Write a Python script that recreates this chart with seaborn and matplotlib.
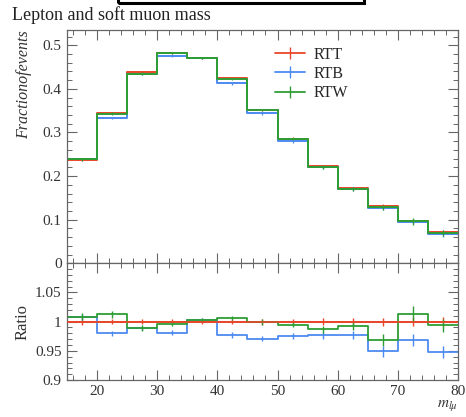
import numpy as np
import pandas as pd
import matplotlib
matplotlib.use("Agg")
import matplotlib.pyplot as plt
import seaborn as sns
from matplotlib.lines import Line2D
from matplotlib.patches import Rectangle
from matplotlib.ticker import MultipleLocator, FormatStrFormatter

# data: m_lmu histogram, bins of 5 from 15 to 80
bin_edges = [15, 20, 25, 30, 35, 40, 45, 50, 55, 60, 65, 70, 75, 80]
bin_centers = [17.5, 22.5, 27.5, 32.5, 37.5, 42.5, 47.5, 52.5, 57.5, 62.5, 67.5, 72.5, 77.5]

rtt = [0.238, 0.345, 0.438, 0.483, 0.470, 0.424, 0.352, 0.286, 0.222, 0.172, 0.132, 0.097, 0.071]
rtb = [0.239, 0.333, 0.435, 0.476, 0.470, 0.413, 0.344, 0.280, 0.220, 0.170, 0.127, 0.095, 0.068]
rtw = [0.239, 0.343, 0.435, 0.482, 0.470, 0.422, 0.352, 0.285, 0.221, 0.171, 0.128, 0.096, 0.070]

ratio_rtt = [1.0, 1.0, 1.0, 1.0, 1.0, 1.0, 1.0, 1.0, 1.0, 1.0, 1.0, 1.0, 1.0]
ratio_rtb = [1.008, 0.980, 0.989, 0.981, 1.003, 0.977, 0.971, 0.975, 0.977, 0.977, 0.949, 0.968, 0.948]
ratio_rtw = [1.008, 1.013, 0.989, 0.996, 1.003, 1.006, 0.999, 0.995, 0.987, 0.993, 0.968, 1.013, 0.994]

err_rtt = [0.006, 0.004, 0.004, 0.004, 0.004, 0.004, 0.005, 0.005, 0.006, 0.006, 0.007, 0.008, 0.008]
err_rtb = [0.005, 0.004, 0.004, 0.004, 0.004, 0.005, 0.005, 0.005, 0.006, 0.007, 0.009, 0.010, 0.011]
err_rtw = [0.006, 0.006, 0.005, 0.004, 0.004, 0.004, 0.005, 0.005, 0.006, 0.007, 0.010, 0.013, 0.011]

labels = ["RTT", "RTB", "RTW"]
colors = ["#e8462a", "#4d8af0", "#2e9e34"]

sns.set_style("ticks")
plt.rcParams["font.family"] = ["Liberation Serif", "DejaVu Serif"]
plt.rcParams["mathtext.fontset"] = "stix"

fig = plt.figure(figsize=(4.66, 4.17), dpi=100)
ax = fig.add_axes([0.143, 0.3686, 0.8405, 0.5594])
axr = fig.add_axes([0.143, 0.0887, 0.8405, 0.2799], sharex=ax)

gray = "#666666"

# main panel
main_vals = [rtt, rtb, rtw]
main_errs = [[e * 0.6 for e in err_rtt], [e * 0.6 for e in err_rtb], [e * 0.6 for e in err_rtw]]
for vals, errs, c in zip(main_vals, main_errs, colors):
    df = pd.DataFrame({"x": bin_centers, "w": vals})
    sns.histplot(data=df, x="x", weights="w", bins=bin_edges, element="step",
                 fill=False, color=c, linewidth=1.4, ax=ax)
    ax.errorbar(bin_centers, vals, yerr=errs, fmt="none", ecolor=c, elinewidth=0.9)

# ratio panel
ratio_vals = [ratio_rtt, ratio_rtb, ratio_rtw]
ratio_errs = [err_rtt, err_rtb, err_rtw]
for vals, errs, c in zip(ratio_vals, ratio_errs, colors):
    df = pd.DataFrame({"x": bin_centers, "w": vals})
    sns.histplot(data=df, x="x", weights="w", bins=bin_edges, element="step",
                 fill=False, color=c, linewidth=1.3, ax=axr)
    axr.errorbar(bin_centers, vals, yerr=errs, fmt="none", ecolor=c, elinewidth=1.0)
# reference line drawn on top
axr.hlines(1.0, 15, 80, color=colors[0], linewidth=1.2, zorder=5)

ax.set_xlim(15, 80)
ax.set_ylim(0, 0.535)
axr.set_ylim(0.9, 1.1)

for a in (ax, axr):
    a.tick_params(which="both", direction="in", top=True, right=True, color=gray,
                  labelsize=11, labelcolor="#333333")
    a.tick_params(which="major", length=7, width=0.8)
    a.tick_params(which="minor", length=3.5, width=0.7)
    for s in a.spines.values():
        s.set_color(gray)
        s.set_linewidth(0.9)
    a.xaxis.set_major_locator(MultipleLocator(10))
    a.xaxis.set_minor_locator(MultipleLocator(2))
    a.set_ylabel("")
    a.set_xlabel("")

ax.yaxis.set_major_locator(MultipleLocator(0.1))
ax.yaxis.set_minor_locator(MultipleLocator(0.02))
ax.yaxis.set_major_formatter(FormatStrFormatter("%g"))
ax.tick_params(labelbottom=False)

axr.set_yticks([0.9, 0.95, 1.0, 1.05])
axr.yaxis.set_minor_locator(MultipleLocator(0.01))
axr.yaxis.set_major_formatter(FormatStrFormatter("%g"))

ax.set_title("Lepton and soft muon mass", loc="left", fontsize=13, x=-0.14, pad=7, color="#222222")
ax.set_ylabel("Fractionofevents", fontstyle="italic", fontsize=11.5, loc="top", labelpad=8, color="#333333")
axr.set_ylabel("Ratio", fontsize=12, labelpad=3, color="#333333")
axr.set_xlabel(r"$m_{l\mu}$", loc="right", fontsize=11, labelpad=0, color="#333333")

handles = [Line2D([0], [0], color=c, linewidth=1.3, marker="|", markersize=9,
                  markeredgewidth=1.0) for c in colors]
ax.legend(handles, labels, loc="upper left", bbox_to_anchor=(0.495, 0.99), frameon=False,
          fontsize=11.5, handlelength=1.9, handletextpad=0.5, labelspacing=0.2)

# black box fragment at the top of the image
fig.patches.append(Rectangle((118 / 466, 1 - 2.5 / 417), (364 - 118) / 466, 0.05,
                             transform=fig.transFigure, fill=False, edgecolor="black",
                             linewidth=2.2))

fig.savefig("out.png", dpi=100)
